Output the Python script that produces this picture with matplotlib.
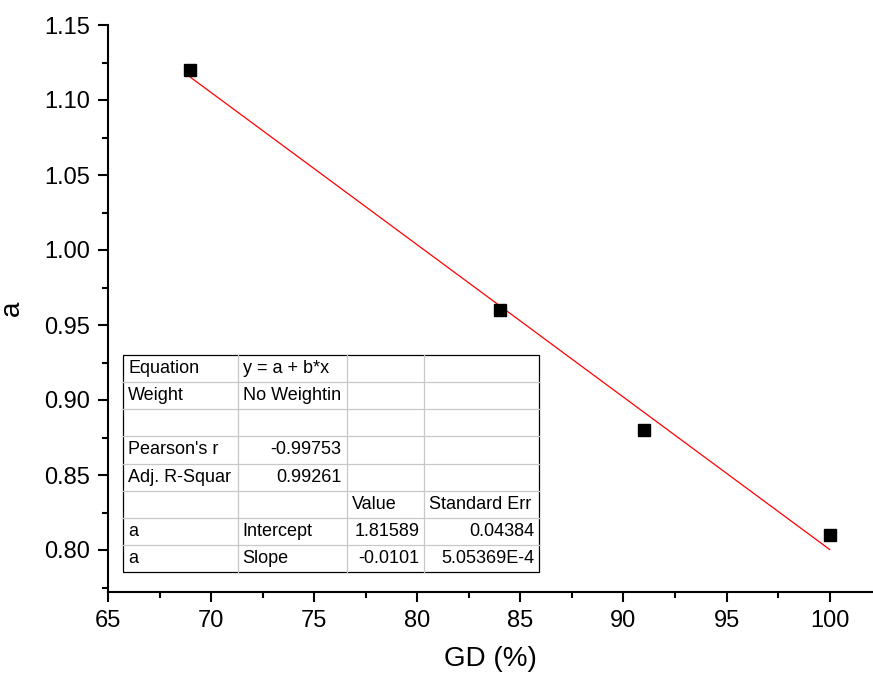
import numpy as np
import matplotlib
matplotlib.use("Agg")
import matplotlib.pyplot as plt
from matplotlib.ticker import MultipleLocator

plt.rcParams['font.family'] = ['Liberation Sans', 'DejaVu Sans']

gd = [69, 84, 91, 100]
a_vals = [1.12, 0.96, 0.88, 0.81]

table_rows = [
    ["Equation", "y = a + b*x", "", ""],
    ["Weight", "No Weightin", "", ""],
    ["", "", "", ""],
    ["Pearson's r", "-0.99753", "", ""],
    ["Adj. R-Squar", "0.99261", "", ""],
    ["", "", "Value", "Standard Err"],
    ["a", "Intercept", "1.81589", "0.04384"],
    ["a", "Slope", "-0.0101", "5.05369E-4"],
]
# alignment per cell: 'l' or 'r'
table_align = [
    ["l", "l", "l", "l"],
    ["l", "l", "l", "l"],
    ["l", "l", "l", "l"],
    ["l", "r", "l", "l"],
    ["l", "r", "l", "l"],
    ["l", "l", "l", "l"],
    ["l", "l", "r", "r"],
    ["l", "l", "r", "r"],
]

fig = plt.figure(figsize=(8.73, 6.77), dpi=100)
ax = fig.add_axes([108/873, (677-592)/677, (873-108)/873, (592-25)/677])

ax.plot(gd, a_vals, 's', color='black', markersize=9, zorder=3)
slope, intercept = np.polyfit(gd, a_vals, 1)
xf = np.array([min(gd), max(gd)])
ax.plot(xf, intercept + slope * xf, color='red', lw=0.9, zorder=2)

ax.set_xlim(65, 102.1)
ax.set_ylim(0.772, 1.15)
ax.xaxis.set_major_locator(MultipleLocator(5))
ax.xaxis.set_minor_locator(MultipleLocator(2.5))
ax.yaxis.set_major_locator(MultipleLocator(0.05))
ax.yaxis.set_minor_locator(MultipleLocator(0.025))
ax.yaxis.set_major_formatter(matplotlib.ticker.FormatStrFormatter('%.2f'))
for s in ['top', 'right']:
    ax.spines[s].set_visible(False)
for s in ['left', 'bottom']:
    ax.spines[s].set_linewidth(1.5)
ax.tick_params(which='major', direction='out', length=7, width=1.5, labelsize=17, pad=6)
ax.tick_params(which='minor', direction='out', length=4, width=1.5)
ax.set_xlabel("GD (%)", fontsize=20, labelpad=10)
ax.set_ylabel("a", fontsize=20, labelpad=14)

# table drawn in axes coords
col_px = [123.3, 237.7, 346.7, 424.3, 539.0]
ax_l, ax_r, ax_t, ax_b = 108, 873, 25, 592
W = ax_r - ax_l
H = ax_b - ax_t
cx = [(c - ax_l) / W for c in col_px]
top_px, bot_px = 355, 572
nrows = len(table_rows)
row_px = np.linspace(top_px, bot_px, nrows + 1)
ry = [(ax_b - r) / H for r in row_px]

for r in row_px[1:-1]:
    y = (ax_b - r) / H
    ax.plot([cx[0], cx[-1]], [y, y], transform=ax.transAxes, color='#c8c8c8', lw=0.9, clip_on=False, zorder=4)
for c in cx[1:-1]:
    ax.plot([c, c], [ry[-1], ry[0]], transform=ax.transAxes, color='#c8c8c8', lw=0.9, clip_on=False, zorder=4)
ax.add_patch(plt.Rectangle((cx[0], ry[-1]), cx[-1] - cx[0], ry[0] - ry[-1], transform=ax.transAxes,
                           facecolor='white', edgecolor='black', lw=0.9, zorder=3.5))

pad = 5 / W
for i, row in enumerate(table_rows):
    yc = (ry[i] + ry[i + 1]) / 2
    for j, txt in enumerate(row):
        if not txt:
            continue
        if table_align[i][j] == 'l':
            ax.text(cx[j] + pad, yc, txt, transform=ax.transAxes, ha='left', va='center', fontsize=13, zorder=5)
        else:
            ax.text(cx[j + 1] - pad, yc, txt, transform=ax.transAxes, ha='right', va='center', fontsize=13, zorder=5)

fig.savefig("out.png", dpi=100)
